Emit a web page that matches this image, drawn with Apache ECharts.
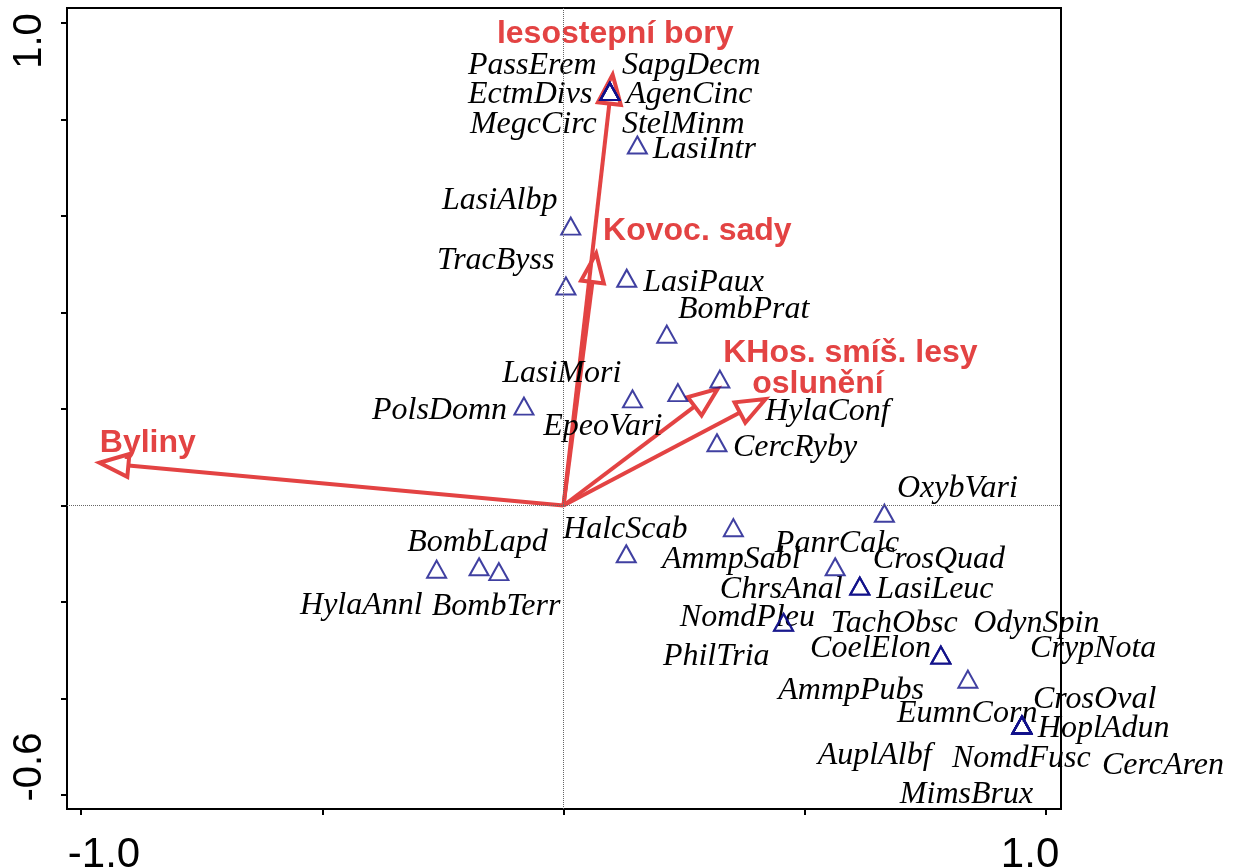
<!DOCTYPE html>
<html>
<head>
<meta charset="utf-8">
<script src="https://cdn.jsdelivr.net/npm/echarts@6/dist/echarts.min.js"></script>
<style>
    html, body {margin: 0; padding: 0; background: #ffffff;}
    #chart {width: 1234px; height: 868px;}
</style>
</head>
<body>
<div id="chart"></div>
<script>
// species scores (triangles) and where their names were placed (axis units)
let speciesNames = ['PassErem', 'SapgDecm', 'EctmDivs', 'AgenCinc', 'MegcCirc', 'StelMinm', 'LasiIntr', 'LasiAlbp',
    'TracByss', 'LasiPaux', 'BombPrat', 'LasiMori', 'PolsDomn', 'EpeoVari', 'HylaConf', 'CercRyby', 'OxybVari',
    'HalcScab', 'AmmpSabl', 'BombLapd', 'HylaAnnl', 'BombTerr', 'PanrCalc', 'CrosQuad', 'ChrsAnal', 'LasiLeuc',
    'NomdPleu', 'PhilTria', 'TachObsc', 'OdynSpin', 'CoelElon', 'CrypNota', 'AmmpPubs', 'CrosOval', 'EumnCorn',
    'HoplAdun', 'AuplAlbf', 'NomdFusc', 'CercAren', 'MimsBrux']
let speciesX = [0.096, 0.096, 0.096, 0.096, 0.096, 0.096, 0.153, 0.015, 0.005, 0.131, 0.214, 0.143, -0.082, 0.237,
    0.324, 0.318, 0.665, 0.352, 0.130, -0.175, -0.263, -0.134, 0.563, 0.614, 0.614, 0.614, 0.456, 0.456, 0.782,
    0.838, 0.782, 0.950, 0.782, 0.950, 0.950, 0.950, 0.950, 0.950, 0.950, 0.950]
let speciesY = [0.858, 0.858, 0.858, 0.858, 0.858, 0.858, 0.747, 0.579, 0.455, 0.471, 0.355, 0.221, 0.206, 0.234,
    0.262, 0.130, -0.016, -0.046, -0.100, -0.127, -0.132, -0.137, -0.127, -0.167, -0.167, -0.167, -0.242, -0.242,
    -0.310, -0.360, -0.310, -0.455, -0.310, -0.455, -0.455, -0.455, -0.455, -0.455, -0.455, -0.455]
let speciesLabelX = [-0.198, 0.121, -0.198, 0.130, -0.194, 0.121, 0.185, -0.252, -0.262, 0.165, 0.237, -0.127,
    -0.397, -0.042, 0.418, 0.351, 0.691, -0.001, 0.204, -0.324, -0.546, -0.273, 0.438, 0.641, 0.324, 0.648, 0.241,
    0.206, 0.554, 0.849, 0.511, 0.967, 0.445, 0.973, 0.691, 0.983, 0.527, 0.805, 1.116, 0.697]
let speciesLabelY = [0.915, 0.915, 0.855, 0.855, 0.793, 0.793, 0.741, 0.637, 0.511, 0.467, 0.411, 0.277, 0.200,
    0.167, 0.198, 0.125, 0.040, -0.045, -0.109, -0.072, -0.204, -0.206, -0.074, -0.109, -0.171, -0.171, -0.229,
    -0.308, -0.241, -0.241, -0.293, -0.293, -0.380, -0.399, -0.428, -0.459, -0.515, -0.521, -0.534, -0.594]

// environmental variables (arrows)
let envNames = ['lesostepní bory', 'Kovoc. sady', 'Byliny', 'KHos. smíš. lesy', 'oslunění']
let envX = [0.103, 0.069, -0.972, 0.328, 0.428]
let envY = [0.903, 0.533, 0.0895, 0.248, 0.2255]
let envLabelX = [-0.138, 0.082, -0.961, 0.331, 0.391]
let envLabelY = [0.981, 0.573, 0.134, 0.320, 0.256]

let xTicks = [-1.0, -0.5, 0, 0.5, 1.0]
let xLabels = [-1.0, 1.0]
let yTicks = [-0.6, -0.4, -0.2, 0, 0.2, 0.4, 0.6, 0.8, 1.0]
let yLabels = [-0.6, 1.0]

let red = '#e34343'
let navy = '#10108a'

let chart = echarts.init(document.getElementById('chart'))

function renderArrow(params, api) {
    let o = api.coord([0, 0])
    let t = api.coord([api.value(0), api.value(1)])
    let dx = t[0] - o[0], dy = t[1] - o[1]
    let len = Math.hypot(dx, dy)
    let ux = dx / len, uy = dy / len
    let tx = t[0] - ux * 5, ty = t[1] - uy * 5
    let hl = 29, hw = 11.5
    let bx = tx - ux * hl, by = ty - uy * hl
    return {
        type: 'group',
        children: [
            {type: 'line', shape: {x1: o[0], y1: o[1], x2: bx, y2: by}, style: {stroke: red, lineWidth: 4}},
            {
                type: 'polygon',
                shape: {points: [[tx, ty], [bx - uy * hw, by + ux * hw], [bx + uy * hw, by - ux * hw]]},
                style: {fill: 'none', stroke: red, lineWidth: 4, lineJoin: 'miter'}
            }
        ]
    }
}

// names are anchored at their left edge, a little below the middle of the caps
function textRenderer(names, font, color) {
    return function (params, api) {
        let p = api.coord([api.value(0), api.value(1)])
        return {
            type: 'text',
            x: p[0],
            y: p[1] + 2,
            style: {text: names[params.dataIndex], font: font, fill: color, align: 'left', verticalAlign: 'middle'}
        }
    }
}

let option = {
    animation: false,
    grid: {
        left: 67, top: 8, right: 173, bottom: 59,
        outerBoundsMode: 'none',
        containLabel: false,
        show: true, borderColor: '#000', borderWidth: 2, backgroundColor: '#fff'
    },
    xAxis: {
        type: 'value',
        min: -1.029,
        max: 1.031,
        splitLine: {show: false},
        axisLine: {show: true, onZero: false, lineStyle: {color: '#000', width: 2}},
        axisTick: {show: true, customValues: xTicks, length: 6, lineStyle: {color: '#000', width: 2}},
        axisLabel: {
            customValues: xLabels,
            margin: 25,
            fontFamily: 'Liberation Sans',
            fontSize: 42,
            color: '#000',
            formatter: function (v) {
                return v < 0 ? '{a|' + v.toFixed(1) + '}' : '{b|' + v.toFixed(1) + '}'
            },
            rich: {
                a: {fontFamily: 'Liberation Sans', fontSize: 42, color: '#000', padding: [0, 0, 0, 46]},
                b: {fontFamily: 'Liberation Sans', fontSize: 42, color: '#000', padding: [0, 32, 0, 0]}
            }
        }
    },
    yAxis: {
        type: 'value',
        min: -0.629,
        max: 1.031,
        splitLine: {show: false},
        axisLine: {show: true, onZero: false, lineStyle: {color: '#000', width: 2}},
        axisTick: {show: true, customValues: yTicks, length: 6, lineStyle: {color: '#000', width: 2}},
        axisLabel: {
            customValues: yLabels,
            rotate: 90,
            margin: 17,
            fontFamily: 'Liberation Sans',
            fontSize: 40,
            color: '#000',
            formatter: function (v) {
                return v > 0 ? '{t|' + v.toFixed(1) + '}' : '{b|' + v.toFixed(1) + '}'
            },
            rich: {
                t: {fontFamily: 'Liberation Sans', fontSize: 40, color: '#000', padding: [0, 36, 0, 0]},
                b: {fontFamily: 'Liberation Sans', fontSize: 40, color: '#000', padding: [0, 0, 0, 56]}
            }
        }
    },
    series: [
        {
            type: 'scatter',
            symbol: 'triangle',
            symbolSize: [19, 17],
            silent: true,
            itemStyle: {color: 'rgba(0,0,0,0)', borderColor: navy, borderWidth: 2},
            data: speciesX.map((x, i) => [x, speciesY[i]]),
            markLine: {
                silent: true,
                symbol: ['none', 'none'],
                label: {show: false},
                lineStyle: {type: 'dotted', color: '#666', width: 1},
                data: [{xAxis: 0}, {yAxis: 0}]
            }
        },
        {
            type: 'custom',
            clip: false,
            silent: true,
            renderItem: renderArrow,
            data: envX.map((x, i) => [x, envY[i]])
        },
        {
            type: 'custom',
            clip: false,
            silent: true,
            renderItem: textRenderer(speciesNames, 'italic 32px "Liberation Serif"', '#000'),
            data: speciesLabelX.map((x, i) => [x, speciesLabelY[i]])
        },
        {
            type: 'custom',
            clip: false,
            silent: true,
            renderItem: textRenderer(envNames, 'bold 32px "Liberation Sans"', red),
            data: envLabelX.map((x, i) => [x, envLabelY[i]])
        }
    ]
}
chart.setOption(option)
</script>
</body>
</html>
